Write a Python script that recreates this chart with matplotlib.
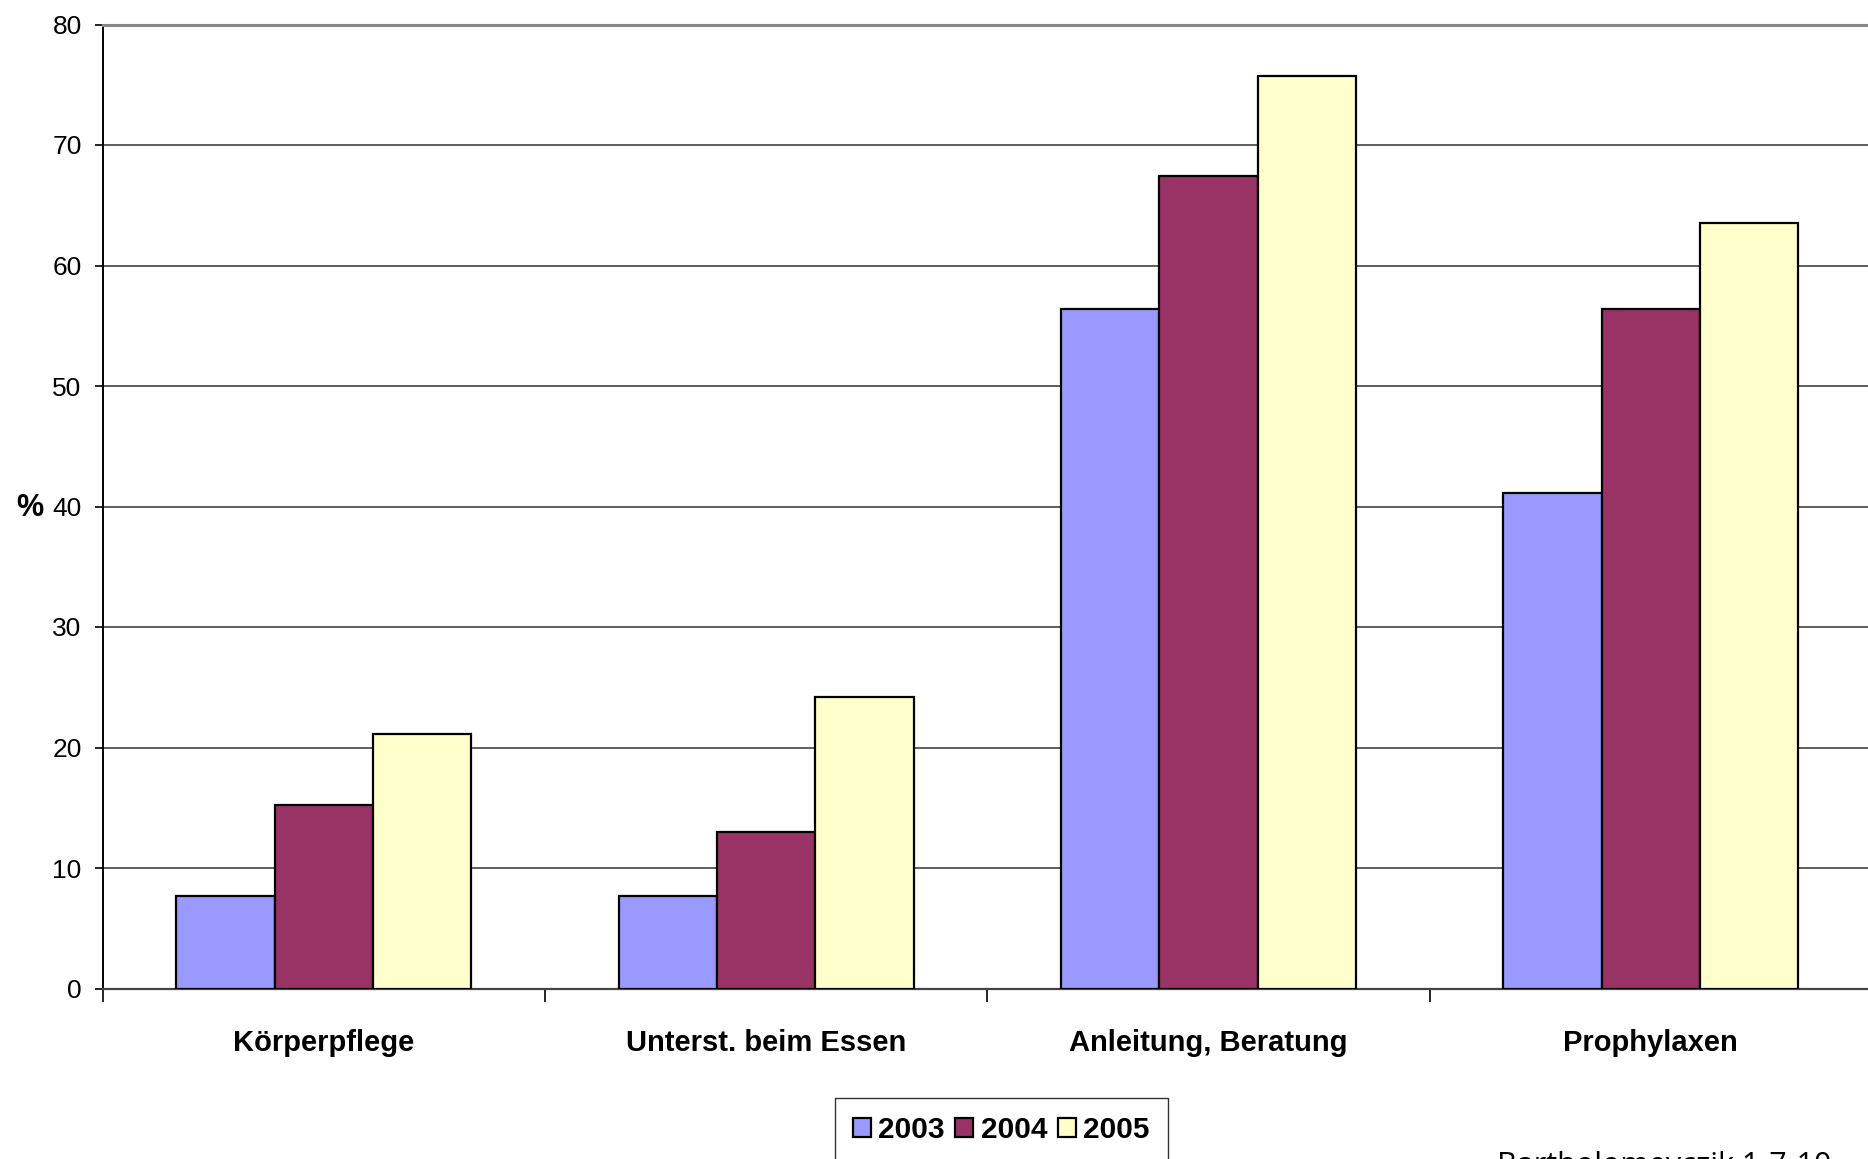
import matplotlib

matplotlib.use("Agg")
import matplotlib.pyplot as plt
import numpy as np

categories = ["Körperpflege", "Unterst. beim Essen", "Anleitung, Beratung", "Prophylaxen"]
years = ["2003", "2004", "2005"]
v2003 = [7.7, 7.7, 56.4, 41.1]
v2004 = [15.2, 13.0, 67.4, 56.4]
v2005 = [21.1, 24.2, 75.7, 63.5]
yticks = [0, 10, 20, 30, 40, 50, 60, 70, 80]

colors = ["#9999FF", "#993366", "#FFFFCC"]
NARROW = ["Liberation Sans Narrow", "Liberation Sans", "DejaVu Sans"]

W, H, DPI = 1868, 1159, 100
fig = plt.figure(figsize=(W / DPI, H / DPI), dpi=DPI)
# plot area runs slightly past the right edge, like the reference crop
ax = fig.add_axes([102.5 / W, 1 - 988.5 / H, (1872 - 102.5) / W, (988.5 - 24.5) / H])

x = np.arange(len(categories))
bw = 1 / 4.5  # Excel gap width 150 %
for i, (vals, col, lab) in enumerate(zip([v2003, v2004, v2005], colors, years)):
    ax.bar(x + (i - 1) * bw, vals, bw, color=col, edgecolor="black",
           linewidth=1.6, label=lab, zorder=3)

ax.set_xlim(-0.5, len(categories) - 0.5)
ax.set_ylim(0, 80)
ax.set_yticks(yticks)
ax.set_yticklabels([str(t) for t in yticks], family=NARROW, fontsize=19)
ax.yaxis.grid(True, color="#333333", linewidth=1.1, zorder=0)
ax.tick_params(axis="y", length=6, width=1.2, pad=9)

ax.set_xticks(x)
ax.set_xticklabels(categories, family=NARROW, fontsize=21, fontweight="bold")
ax.set_xticks(np.arange(-0.5, len(categories) - 0.4, 1), minor=True)
ax.tick_params(axis="x", which="major", length=0, pad=29)
ax.tick_params(axis="x", which="minor", length=9, width=1.2)

ax.spines["top"].set_color("#888888")
ax.spines["top"].set_linewidth(2.2)
ax.spines["right"].set_visible(False)
ax.spines["left"].set_linewidth(1.4)
ax.spines["bottom"].set_linewidth(1.6)
ax.spines["bottom"].set_color("#444444")

fig.text(30 / W, 1 - 508 / H, "%", family=NARROW, fontsize=22, fontweight="bold",
         ha="center", va="center")

leg = ax.legend(loc="upper left", bbox_to_anchor=(835 / W, 1 - 1098 / H),
                bbox_transform=fig.transFigure, ncol=3, frameon=True,
                prop={"family": NARROW, "size": 21.5, "weight": "bold"},
                handlelength=0.6, handleheight=0.6, handletextpad=0.25,
                columnspacing=0.35, borderpad=0.6, borderaxespad=0,
                fancybox=False)
leg.get_frame().set_edgecolor("black")
leg.get_frame().set_linewidth(1.0)

fig.text(1497 / W, 1 - 1151 / H, "Bartholomeyczik 1-7-10", family="Open Sans",
         fontsize=22, ha="left", va="top")

fig.savefig("out.png", dpi=DPI)
